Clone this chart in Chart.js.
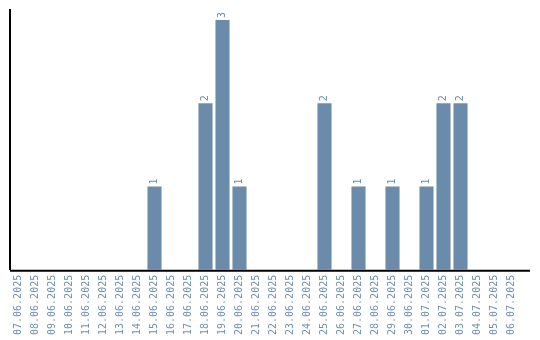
<!DOCTYPE html>
<html>
<head>
<meta charset="utf-8">
<script src="https://cdn.jsdelivr.net/npm/chart.js@4/dist/chart.umd.min.js"></script>
<style>
html,body{margin:0;padding:0;background:#fff;}
#wrap{width:540px;height:340px;}
</style>
</head>
<body>
<div id="wrap"><canvas id="c" width="540" height="340"></canvas></div>
<script>
const categories = ["07.06.2025","08.06.2025","09.06.2025","10.06.2025","11.06.2025","12.06.2025","13.06.2025","14.06.2025","15.06.2025","16.06.2025","17.06.2025","18.06.2025","19.06.2025","20.06.2025","21.06.2025","22.06.2025","23.06.2025","24.06.2025","25.06.2025","26.06.2025","27.06.2025","28.06.2025","29.06.2025","30.06.2025","01.07.2025","02.07.2025","03.07.2025","04.07.2025","05.07.2025","06.07.2025"];
const counts = [0,0,0,0,0,0,0,0,1,0,0,2,3,1,0,0,0,0,2,0,1,0,1,0,1,2,2,0,0,0];

const barColor = '#6a8caa';
const labelFont = '10px "DejaVu Sans Mono", "Liberation Mono", monospace';

const valueLabels = {
  id: 'valueLabels',
  afterDatasetsDraw(chart) {
    const ctx = chart.ctx;
    const meta = chart.getDatasetMeta(0);
    const area = chart.chartArea;
    ctx.save();
    // x axis line, extending a little past the last category
    ctx.strokeStyle = '#000';
    ctx.lineWidth = 2;
    ctx.beginPath();
    ctx.moveTo(area.left, area.bottom + 1);
    ctx.lineTo(area.right + 10, area.bottom + 1);
    ctx.stroke();
    ctx.fillStyle = barColor;
    ctx.font = labelFont;
    ctx.textAlign = 'left';
    ctx.textBaseline = 'middle';
    meta.data.forEach((bar, i) => {
      const v = counts[i];
      if (!v) return;
      ctx.save();
      ctx.translate(bar.x, bar.y - 2);
      ctx.rotate(-Math.PI / 2);
      ctx.fillText(String(v), 0, 0);
      ctx.restore();
    });
    ctx.restore();
  }
};

new Chart(document.getElementById('c'), {
  type: 'bar',
  data: {
    labels: categories,
    datasets: [{
      data: counts,
      backgroundColor: barColor,
      borderWidth: 0,
      barPercentage: 0.9,
      categoryPercentage: 0.92
    }]
  },
  options: {
    responsive: false,
    animation: false,
    layout: { padding: { left: 10, top: 10, right: 20, bottom: 0 } },
    plugins: { legend: { display: false }, tooltip: { enabled: false } },
    scales: {
      x: {
        grid: { display: false, drawTicks: false },
        border: { display: false },
        ticks: {
          color: '#6f8fae',
          font: { family: '"DejaVu Sans Mono", "Liberation Mono", monospace', size: 10 },
          minRotation: 90,
          maxRotation: 90,
          autoSkip: false,
          padding: 5
        }
      },
      y: {
        min: 0,
        max: 3.12,
        grid: { display: false, drawTicks: false },
        border: { display: true, color: '#000', width: 2 },
        ticks: { display: false },
        afterFit(scale) { scale.width = 0; }
      }
    }
  },
  plugins: [valueLabels]
});
</script>
</body>
</html>
